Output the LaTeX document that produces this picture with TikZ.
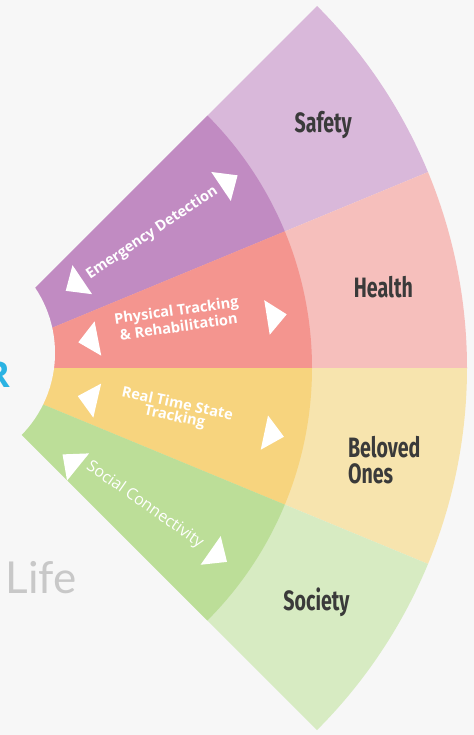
\documentclass[tikz,border=0pt]{standalone}
\usepackage{fontspec}
\usepackage{xcolor}
\usepackage{tikz}
\usetikzlibrary{shapes.geometric}
\newfontfamily\ringfont[FakeStretch=0.7]{Fira Sans}
\newfontfamily\bandfont{Open Sans}
\newfontfamily\sidefont{Lato}
\definecolor{bgGray}{HTML}{F7F7F7}
\definecolor{safetyDark}{HTML}{C18BC2}
\definecolor{safetyLight}{HTML}{D9B8DA}
\definecolor{healthDark}{HTML}{F4958F}
\definecolor{healthLight}{HTML}{F6BFBC}
\definecolor{belovedDark}{HTML}{F7D47E}
\definecolor{belovedLight}{HTML}{F7E4AE}
\definecolor{societyDark}{HTML}{BCDE98}
\definecolor{societyLight}{HTML}{D7EBC2}
\definecolor{labelGray}{HTML}{3A3A3A}
\definecolor{lifeGray}{HTML}{C8C8C8}
\definecolor{logoCyan}{HTML}{2BB3E3}
\tikzstyle{ring} = [text=labelGray, font=\ringfont\bfseries\fontsize{14pt}{13pt}\selectfont, align=left, inner sep=0pt]
\tikzstyle{band} = [text=white, font=\bandfont\bfseries\fontsize{7.3pt}{6.6pt}\selectfont, align=center, inner sep=0pt]
\tikzstyle{pointer} = [isosceles triangle, isosceles triangle stretches, minimum width=17.5pt, minimum height=10pt, inner sep=0pt, fill=white]

\begin{document}
\begin{tikzpicture}
                  \useasboundingbox (22.5pt,-183.5pt) rectangle (259.5pt,184pt);
                  \clip (22.5pt,-183.5pt) rectangle (259.5pt,184pt);
                  \fill[bgGray] (22.5pt,-183.5pt) rectangle (259.5pt,184pt);

                  % outer ring
                  \fill[safetyLight] (0,0) -- (22.5:256pt) arc[start angle=22.5, end angle=45, radius=256pt] -- cycle;
                  \fill[healthLight] (0,0) -- (0:256pt) arc[start angle=0, end angle=22.5, radius=256pt] -- cycle;
                  \fill[belovedLight] (0,0) -- (-22.5:256pt) arc[start angle=-22.5, end angle=0, radius=256pt] -- cycle;
                  \fill[societyLight] (0,0) -- (-45:256pt) arc[start angle=-45, end angle=-22.5, radius=256pt] -- cycle;
                  % inner ring
                  \fill[safetyDark] (0,0) -- (22.5:178.5pt) arc[start angle=22.5, end angle=45, radius=178.5pt] -- cycle;
                  \fill[healthDark] (0,0) -- (0:178.5pt) arc[start angle=0, end angle=22.5, radius=178.5pt] -- cycle;
                  \fill[belovedDark] (0,0) -- (-22.5:178.5pt) arc[start angle=-22.5, end angle=0, radius=178.5pt] -- cycle;
                  \fill[societyDark] (0,0) -- (-45:178.5pt) arc[start angle=-45, end angle=-22.5, radius=178.5pt] -- cycle;
                  % hole
                  \fill[bgGray] (-8.5pt,7.5pt) circle[radius=58.5pt];

                  \node (emergency-in) [pointer, rotate=214] at (34.8:73.5pt) {};
                  \node (emergency-out) [pointer, rotate=34] at (34.3:165pt) {};
                  \node (physical-in) [pointer, rotate=191] at (11.7:69pt) {};
                  \node (physical-out) [pointer, rotate=9] at (9.2:162pt) {};
                  \node (realtime-in) [pointer, rotate=167] at (-12.9:69pt) {};
                  \node (realtime-out) [pointer, rotate=-12] at (-11.8:162pt) {};
                  \node (social-in) [pointer, rotate=141] at (-38.8:75pt) {};
                  \node (social-out) [pointer, rotate=-35] at (-35.5:161pt) {};

                  \node (emergency) [band, rotate=34] at (34.4:119.5pt) {Emergency Detection};
                  \node (physical) [band, rotate=8] at (12.6:114pt) {Physical Tracking\\\& Rehabilitation};
                  \node (realtime) [band, rotate=-12] at (-11:112.5pt) {Real Time State\\Tracking};
                  \node (social) [band, rotate=-35, font=\bandfont\fontsize{8pt}{8pt}\selectfont] at (-35.8:117pt) {Social Connectivity};

                  \node (safety) [ring] at (33.4:220.5pt) {Safety};
                  \node (health) [ring] at (10.7:218pt) {Health};
                  \node (beloved) [ring] at (-12.1:219.5pt) {Beloved\\Ones};
                  \node (society) [ring] at (-33:215.5pt) {Society};

                  \node (mark) [anchor=east, text=logoCyan, font=\bandfont\bfseries\fontsize{18pt}{18pt}\selectfont, inner sep=0pt] at (28pt,-3.5pt) {R};
                  \node (life) [anchor=base west, text=lifeGray, font=\sidefont\fontsize{22pt}{22pt}\selectfont, inner sep=0pt] at (25pt,-112.5pt) {Life};
              \end{tikzpicture}
\end{document}
